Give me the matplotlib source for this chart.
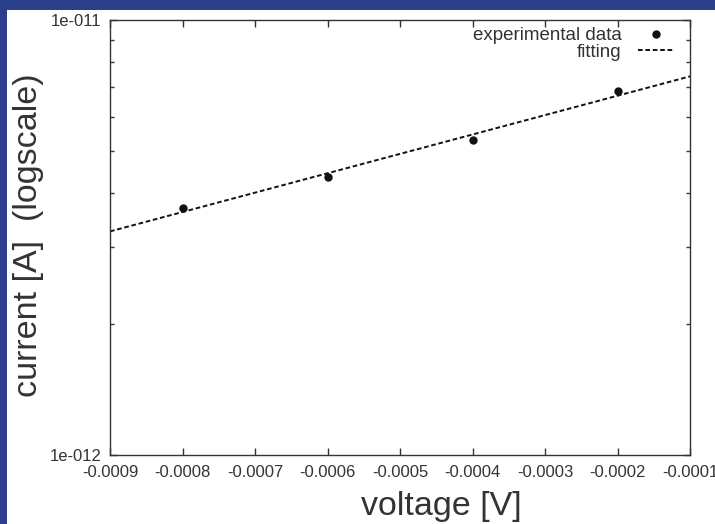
import numpy as np
import matplotlib
matplotlib.use("Agg")
import matplotlib.pyplot as plt
from matplotlib.ticker import FixedLocator, LogLocator, NullFormatter

# Measured I-V points (reverse bias)
voltage = np.array([-0.0008, -0.0006, -0.0004, -0.0002])
current = np.array([3.70e-12, 4.36e-12, 5.30e-12, 6.87e-12])

x_ticks = [-0.0009, -0.0008, -0.0007, -0.0006, -0.0005, -0.0004, -0.0003, -0.0002, -0.0001]
x_tick_labels = ["-0.0009", "-0.0008", "-0.0007", "-0.0006", "-0.0005",
                 "-0.0004", "-0.0003", "-0.0002", "-0.0001"]
y_ticks = [1e-12, 1e-11]
y_tick_labels = ["1e-012", "1e-011"]

# Exponential fit: straight line in log10(I) vs V
slope, intercept = np.polyfit(voltage, np.log10(current), 1)
v_fit = np.linspace(x_ticks[0], x_ticks[-1], 200)
i_fit = 10 ** (slope * v_fit + intercept)

plt.rcParams["font.family"] = ["Liberation Sans", "DejaVu Sans"]
ink = "#333333"

fig = plt.figure(figsize=(7.15, 5.24), dpi=100, facecolor="#2b3f8c")

# white slide panel behind the plot
panel = fig.add_axes([7 / 715, 0, 1 - 7 / 715, 1 - 10 / 524], zorder=0)
panel.set_axis_off()
panel.add_patch(plt.Rectangle((0, 0), 1, 1, transform=panel.transAxes,
                              facecolor="white", edgecolor="none"))

ax = fig.add_axes([110 / 715, 1 - 455 / 524, 580 / 715, 435 / 524], zorder=2)
ax.set_facecolor("white")
ax.set_yscale("log")
ax.set_xlim(x_ticks[0], x_ticks[-1])
ax.set_ylim(y_ticks[0], y_ticks[-1])

ax.plot(v_fit, i_fit, linestyle=(0, (2.4, 1.4)), color="#111111", lw=1.4,
        label="fitting")
ax.plot(voltage, current, "o", color="#111111", ms=5, label="experimental data")

ax.xaxis.set_major_locator(FixedLocator(x_ticks))
ax.set_xticklabels(x_tick_labels)
ax.yaxis.set_major_locator(FixedLocator(y_ticks))
ax.set_yticklabels(y_tick_labels)
ax.yaxis.set_minor_locator(LogLocator(base=10, subs=np.arange(2, 10)))
ax.yaxis.set_minor_formatter(NullFormatter())

ax.tick_params(which="both", direction="in", top=True, right=True,
               colors=ink, labelcolor=ink, labelsize=12, width=1.0)
ax.tick_params(which="major", length=5)
ax.tick_params(axis="x", which="major", pad=7)
ax.tick_params(axis="y", which="major", pad=6)
ax.tick_params(which="minor", length=3)
for s in ax.spines.values():
    s.set_color(ink)
    s.set_linewidth(1.0)

handles, labels = ax.get_legend_handles_labels()
leg = ax.legend(handles[::-1], labels[::-1], loc="upper right",
                bbox_to_anchor=((675 - 110) / 580, 1 - 7 / 435),
                frameon=False, markerfirst=False, fontsize=13.5,
                handlelength=2.0, handletextpad=0.85, labelspacing=-0.04,
                borderpad=0, borderaxespad=0, labelcolor=ink)
for t in leg.get_texts():
    t.set_ha("right")

fig.text(29 / 715, 1 - 235 / 524, "current [A]  (logscale)", rotation=90,
         ha="center", va="center", fontsize=24.5, color=ink)
fig.text(441 / 715, 1 - 506 / 524, "voltage [V]", ha="center", va="center",
         fontsize=24.5, color=ink)

fig.savefig("out.png", dpi=100, facecolor=fig.get_facecolor())
